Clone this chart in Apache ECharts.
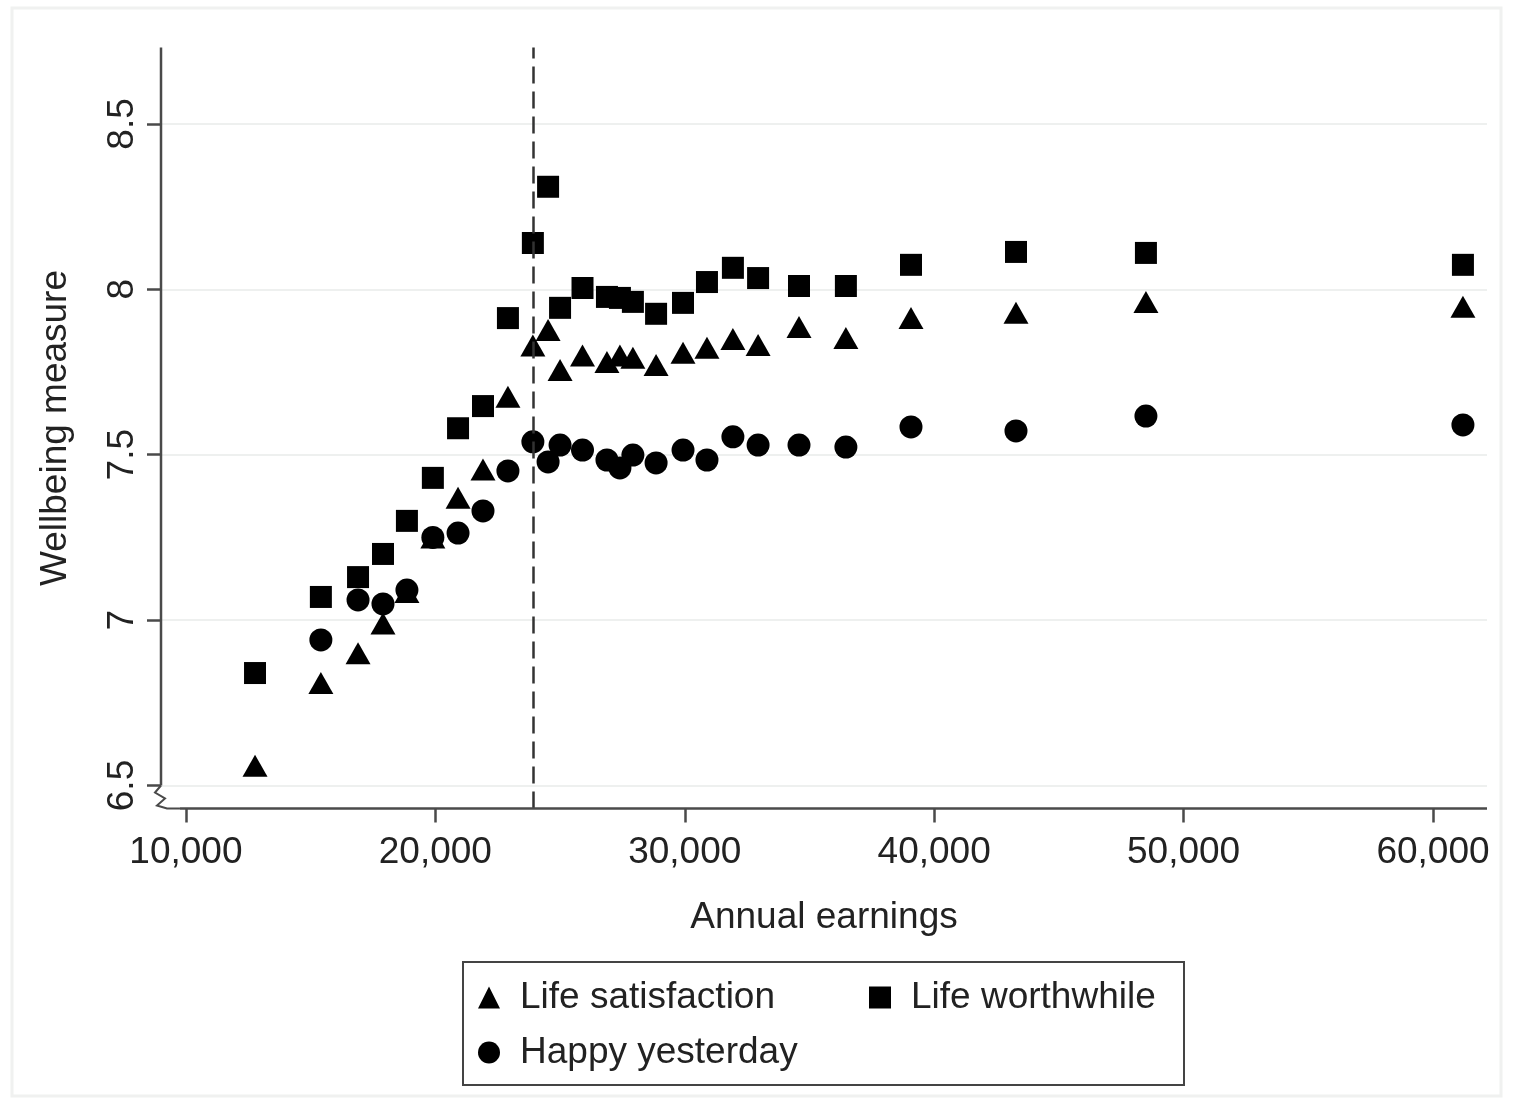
<!DOCTYPE html>
<html><head><meta charset="utf-8">
<script src="https://cdn.jsdelivr.net/npm/echarts@6/dist/echarts.min.js"></script>
<style>html,body{margin:0;padding:0;background:#fff}#c{width:1513px;height:1104px}</style>
</head><body><div id="c"></div>
<script>
// ---- data ----
const earnings = [12770, 15410, 16900, 17900, 18860, 19900, 20910, 21910, 22910, 23910, 24520, 25000, 25900, 26880, 27400, 27920, 28850, 29930, 30890, 31930, 32940, 34580, 36460, 39070, 43280, 48490, 61200];
const lifeSatisfaction = [6.56, 6.81, 6.90, 6.99, 7.085, 7.25, 7.37, 7.455, 7.675, 7.83, 7.877, 7.756, 7.80, 7.78, 7.80, 7.793, 7.771, 7.808, 7.823, 7.85, 7.832, 7.886, 7.853, 7.913, 7.929, 7.962, 7.947];
const lifeWorthwhile = [6.84, 7.07, 7.13, 7.20, 7.30, 7.43, 7.58, 7.647, 7.913, 8.14, 8.31, 7.944, 8.004, 7.977, 7.974, 7.962, 7.926, 7.959, 8.022, 8.065, 8.034, 8.01, 8.01, 8.074, 8.113, 8.11, 8.074];
const happyYesterday = [null, 6.94, 7.061, 7.049, 7.091, 7.25, 7.263, 7.33, 7.451, 7.539, 7.478, 7.529, 7.514, 7.484, 7.46, 7.499, 7.475, 7.514, 7.484, 7.554, 7.529, 7.529, 7.523, 7.584, 7.572, 7.617, 7.59];
const seriesNames = ['Life satisfaction', 'Life worthwhile', 'Happy yesterday'];
const xTicks = [10000, 20000, 30000, 40000, 50000, 60000];
const yTicks = [6.5, 7, 7.5, 8, 8.5];
const thresholdEarnings = 23910;
const xRange = [9000, 62165];
const yRange = [6.4305, 8.731];
const xAxisStart = 9760;   // x-axis line begins after the break symbol

(function () {
const FONT = "'Liberation Sans', Arial, Helvetica, sans-serif";
const AX = '#4a4a4a';
const pairs = ys => earnings.map((x, i) => ys[i] == null ? null : [x, ys[i]]).filter(Boolean);

const chart = echarts.init(document.getElementById('c'), null, {renderer: 'canvas'});
const option = {
  backgroundColor: '#ffffff',
  animation: false,
  textStyle: {fontFamily: FONT},
  grid: {left: 161, right: 26, top: 47.5, bottom: 295.5, containLabel: false},
  xAxis: {
    type: 'value', min: xRange[0], max: xRange[1],
    axisLine: {show: false, onZero: false},
    axisTick: {show: true, length: 14, customValues: xTicks, lineStyle: {color: AX, width: 2.5}},
    axisLabel: {customValues: xTicks, margin: 26, fontSize: 37, color: '#222', fontFamily: FONT,
      formatter: v => Number(v).toLocaleString('en-US')},
    splitLine: {show: false},
    name: 'Annual earnings', nameLocation: 'middle', nameGap: 91,
    nameTextStyle: {fontSize: 37, color: '#222', fontFamily: FONT}
  },
  yAxis: {
    type: 'value', min: yRange[0], max: yRange[1],
    axisLine: {show: false},
    axisTick: {show: true, length: 14, customValues: yTicks, lineStyle: {color: AX, width: 2.5}},
    axisLabel: {customValues: yTicks, rotate: 90, margin: 20, fontSize: 37, color: '#222', fontFamily: FONT,
      formatter: v => String(v)},
    splitLine: {show: true, lineStyle: {color: '#eef0ef', width: 2}},
    name: 'Wellbeing measure', nameLocation: 'middle', nameGap: 87,
    nameTextStyle: {fontSize: 37, color: '#222', fontFamily: FONT}
  },
  legend: [
    {data: [seriesNames[0], seriesNames[1]], left: 478, top: 979, orient: 'horizontal', itemGap: 94,
      itemWidth: 22, itemHeight: 22, selectedMode: false, padding: 0,
      textStyle: {fontSize: 37, color: '#222', fontFamily: FONT, padding: [0, 0, 0, 15]}},
    {data: [seriesNames[2]], left: 478, top: 1034, orient: 'horizontal',
      itemWidth: 22, itemHeight: 22, selectedMode: false, padding: 0,
      textStyle: {fontSize: 37, color: '#222', fontFamily: FONT, padding: [0, 0, 0, 15]}}
  ],
  series: [
    {name: seriesNames[0], type: 'scatter', symbol: 'triangle', symbolSize: [25, 22], z: 3,
      itemStyle: {color: '#000', opacity: 1}, data: pairs(lifeSatisfaction),
      markLine: {silent: true, symbol: ['none', 'none'], label: {show: false},
        lineStyle: {color: '#333', width: 2.5, type: [17, 8]},
        data: [{xAxis: thresholdEarnings}]}},
    {name: seriesNames[1], type: 'scatter', symbol: 'rect', symbolSize: 22, z: 3,
      itemStyle: {color: '#000', opacity: 1}, data: pairs(lifeWorthwhile)},
    {name: seriesNames[2], type: 'scatter', symbol: 'circle', symbolSize: 23, z: 4,
      itemStyle: {color: '#000', opacity: 1}, data: pairs(happyYesterday)}
  ]
};
chart.setOption(option);

// Axis lines with the y-axis break (decoration positioned from the axes' own scales)
const P = (x, y) => chart.convertToPixel({gridIndex: 0}, [x, y]);
const yTop = P(xRange[0], yRange[1]);
const c65 = P(xRange[0], yTicks[0]);
const xs = P(xAxisStart, yRange[0]);
const xe = P(xRange[1], yRange[0]);
const zz = [[c65[0], c65[1]], [c65[0] - 6, c65[1] + 7], [c65[0] + 4, c65[1] + 13], [c65[0] - 4, c65[1] + 20], [c65[0] + 6, c65[1] + 23], [xs[0], xs[1]]];
chart.setOption({
  graphic: [
    {type: 'rect', shape: {x: 12, y: 8, width: 1489, height: 1088}, style: {fill: 'none', stroke: '#f0f1f0', lineWidth: 3}, silent: true},
    {type: 'line', shape: {x1: yTop[0], y1: yTop[1], x2: c65[0], y2: c65[1]}, style: {stroke: AX, lineWidth: 2.5}, silent: true, z: 5},
    {type: 'polyline', shape: {points: zz}, style: {stroke: AX, lineWidth: 2, fill: 'none'}, silent: true, z: 5},
    {type: 'line', shape: {x1: xs[0], y1: xs[1], x2: xe[0], y2: xe[1]}, style: {stroke: AX, lineWidth: 2.5}, silent: true, z: 5},
    {type: 'rect', shape: {x: 463, y: 962, width: 721, height: 123}, style: {fill: 'none', stroke: '#444', lineWidth: 2}, silent: true}
  ]
});
})();
</script>
</body></html>
